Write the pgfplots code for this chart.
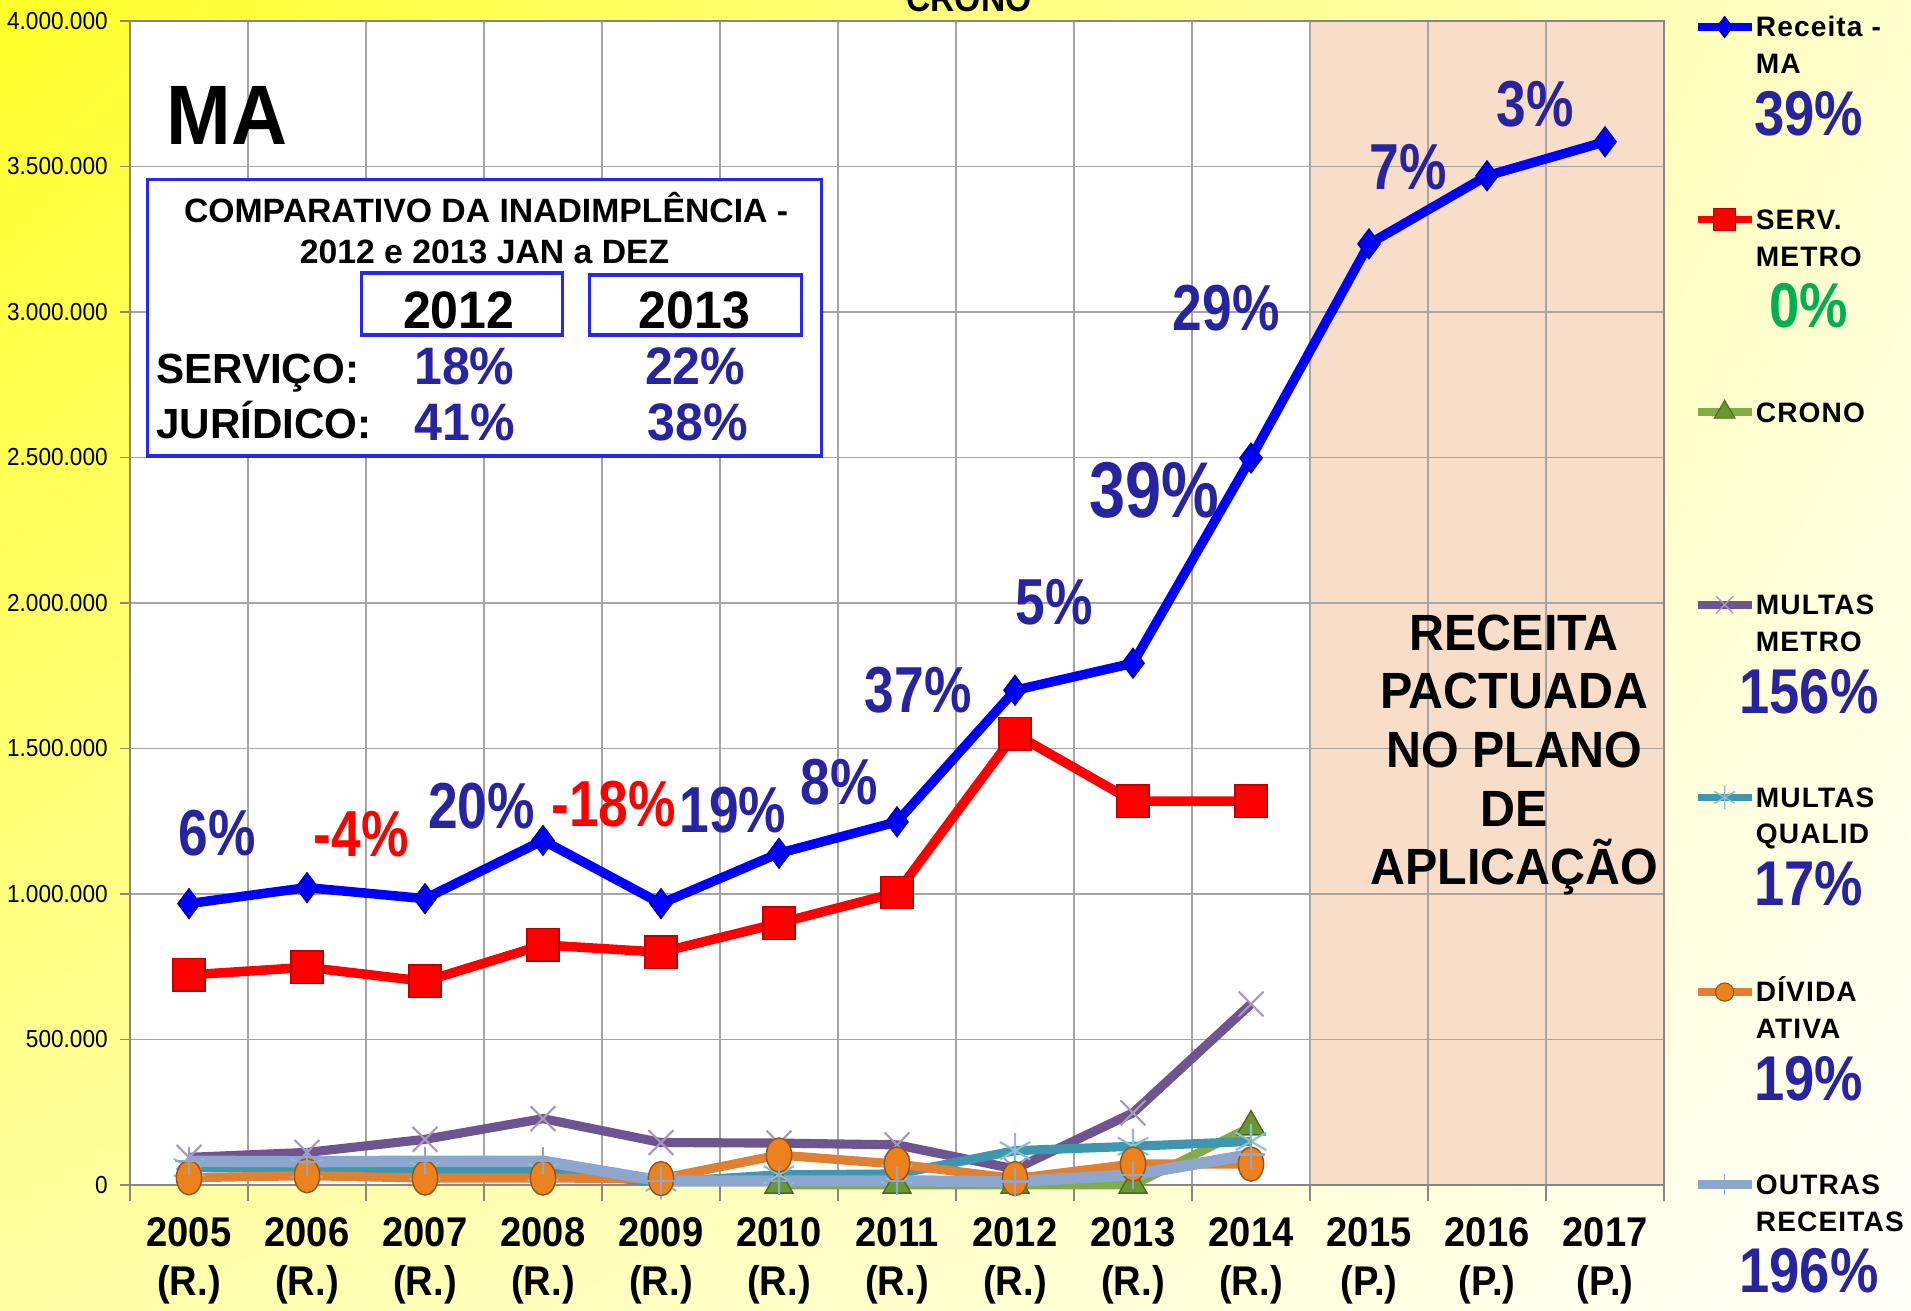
\documentclass[border=0pt]{standalone}
\usepackage{pgfplots}
\pgfplotsset{compat=1.18}
\usetikzlibrary{shadings}
\usepackage{fontspec}
\setmainfont{Liberation Sans}
\newfontfamily\narrowP[FakeStretch=0.82]{Liberation Sans}
\newfontfamily\narrowL[FakeStretch=0.86]{Liberation Sans}
\newfontfamily\narrowB[FakeStretch=0.92]{Liberation Sans}
\newfontfamily\narrowC[FakeStretch=0.95]{Liberation Sans}
\newfontfamily\lgfont[LetterSpace=4]{Liberation Sans}

\definecolor{pctblue}{RGB}{40,35,160}
\definecolor{boxblue}{RGB}{40,40,235}
\definecolor{peach}{RGB}{248,222,200}
\definecolor{greenC}{RGB}{130,172,72}
\definecolor{greenM}{RGB}{108,150,52}
\definecolor{purpleC}{RGB}{110,84,145}
\definecolor{tealC}{RGB}{62,150,175}
\definecolor{orangeC}{RGB}{224,128,50}
\definecolor{orangeM}{RGB}{236,130,30}
\definecolor{lblueC}{RGB}{140,166,206}
\definecolor{gridC}{RGB}{165,165,165}
\definecolor{axisC}{RGB}{135,135,135}
\definecolor{grn}{RGB}{0,176,80}
\definecolor{bgUL}{RGB}{255,255,40}
\definecolor{bgUR}{RGB}{255,255,205}
\definecolor{bgLL}{RGB}{255,255,165}
\definecolor{bgLR}{RGB}{255,255,250}

\NewDocumentCommand\lgent{mmmm}{\parbox[t][1.5cm][t]{1.9cm}{\lgfont\bfseries\fontsize{8}{10.4}\selectfont #1\par #2\par{\narrowL\bfseries\fontsize{18}{17.6}\selectfont\makebox[1.06cm]{\color{#3}#4}\par}}}
\NewDocumentCommand\lgentone{m}{\parbox[t][1.5cm][t]{1.9cm}{\lgfont\bfseries\fontsize{8}{10.4}\selectfont #1\par}}

\tikzset{
  pctlab/.style={text=pctblue, font=\narrowP\bfseries\fontsize{18.5}{20}\selectfont, inner sep=0pt},
  redlab/.style={text=red, font=\narrowP\bfseries\fontsize{18.5}{20}\selectfont, inner sep=0pt},
}

\begin{document}
\begin{tikzpicture}
\shade[shading=bilinear interpolation, upper left=bgUL, upper right=bgUR, lower left=bgLL, lower right=bgLR] (-1.30,-1.25) rectangle (17.81,11.85);
\fill[white] (0,0) rectangle (15.34,11.64);
\fill[peach] (11.80,0) rectangle (15.34,11.64);
\begin{axis}[
  at={(0,0)}, anchor=south west,
  scale only axis, width=15.34cm, height=11.64cm,
  xmin=-0.5, xmax=12.5, ymin=0, ymax=4000000,
  clip=false,
  axis line style={draw=axisC, line width=0.6pt},
  tick pos=left,
  tick align=outside,
  major tick length=2.8pt, minor tick length=4.5pt,
  tick style={axisC, line width=0.5pt},
  xtick={0,...,12},
  xticklabels={{2005\\(R.)},{2006\\(R.)},{2007\\(R.)},{2008\\(R.)},{2009\\(R.)},{2010\\(R.)},{2011\\(R.)},{2012\\(R.)},{2013\\(R.)},{2014\\(R.)},{2015\\(P.)},{2016\\(P.)},{2017\\(P.)}},
  xticklabel style={align=center, font=\narrowB\bfseries\fontsize{11.8}{13.9}\selectfont, yshift=-3pt},
  major x tick style={draw=none},
  minor xtick={-0.5,0.5,...,12.5},
  xminorgrids=true,
  ymajorgrids=true,
  grid style={gridC, line width=0.5pt},
  minor grid style={gridC, line width=0.5pt},
  major grid style={gridC, line width=0.5pt},
  ytick={0,500000,1000000,1500000,2000000,2500000,3000000,3500000,4000000},
  yticklabels={0,500.000,1.000.000,1.500.000,2.000.000,2.500.000,3.000.000,3.500.000,4.000.000},
  scaled y ticks=false,
  yticklabel style={font=\narrowB\fontsize{7}{8}\selectfont},
  legend style={at={(1.0187,1.0066)}, anchor=north west, draw=none, fill=none,
    inner sep=0pt, row sep=0pt, cells={anchor=base west}, nodes={inner sep=0pt},
    /tikz/every even column/.append style={column sep=0.5pt}},
  legend image code/.code={\path[draw=none,fill=none] (0cm,6.5pt) -- (0cm,6.5pt-1.926cm);
    \draw[mark repeat=2,mark phase=2,yshift=2.8pt,#1] plot coordinates {(0cm,0cm) (0.27cm,0cm) (0.54cm,0cm)};},
]
% ---- lines ----
\addplot[forget plot, blue, line width=2.7pt] coordinates {(0,967000)(1,1022000)(2,984000)(3,1184000)(4,967000)(5,1140000)(6,1248000)(7,1700000)(8,1793000)(9,2498000)(10,3234000)(11,3468000)(12,3585000)};
\addplot[forget plot, red, line width=2.7pt] coordinates {(0,722000)(1,748000)(2,700000)(3,825000)(4,800000)(5,900000)(6,1005000)(7,1550000)(8,1319000)(9,1319000)};
\addplot[forget plot, greenC, line width=2.5pt] coordinates {(5,0)(6,0)(7,0)(8,0)(9,200000)};
\addplot[forget plot, purpleC, line width=2.6pt] coordinates {(0,95000)(1,112000)(2,157000)(3,228000)(4,146000)(5,144000)(6,138000)(7,55000)(8,248000)(9,622000)};
\addplot[forget plot, tealC, line width=2.6pt] coordinates {(0,60000)(1,57000)(2,50000)(3,45000)(4,10000)(5,35000)(6,38000)(7,118000)(8,133000)(9,150000)};
\addplot[forget plot, orangeC, line width=2.6pt] coordinates {(0,25000)(1,32000)(2,24000)(3,24000)(4,22000)(5,103000)(6,72000)(7,22000)(8,72000)(9,72000)};
\addplot[forget plot, lblueC, line width=3.2pt] coordinates {(0,82000)(1,80000)(2,82000)(3,82000)(4,14000)(5,14000)(6,14000)(7,12000)(8,35000)(9,105000)};
% ---- markers ----
\addplot[forget plot, only marks, mark=diamond*, mark size=4.2pt, mark options={fill=blue, draw={rgb,255:red,0;green,0;blue,170}, line width=0.4pt}] coordinates {(0,967000)(1,1022000)(2,984000)(3,1184000)(4,967000)(5,1140000)(6,1248000)(7,1700000)(8,1793000)(9,2498000)(10,3234000)(11,3468000)(12,3585000)};
\addplot[forget plot, only marks, mark=square*, mark size=4.6pt, mark options={fill=red, draw=red!75!black, line width=0.4pt}] coordinates {(0,722000)(1,748000)(2,700000)(3,825000)(4,800000)(5,900000)(6,1005000)(7,1550000)(8,1319000)(9,1319000)};
\addplot[forget plot, only marks, mark=triangle*, mark size=4.6pt, mark options={fill=greenM, draw=greenM!70!black, line width=0.4pt}] coordinates {(5,0)(6,0)(7,0)(8,0)(9,200000)};
\addplot[forget plot, only marks, mark=x, mark size=5pt, mark options={draw=purpleC!60!white, line width=0.6pt}] coordinates {(0,95000)(1,112000)(2,157000)(3,228000)(4,146000)(5,144000)(6,138000)(7,55000)(8,248000)(9,622000)};
\addplot[forget plot, only marks, mark=asterisk, mark size=5pt, mark options={draw=tealC!60!white, line width=0.6pt}] coordinates {(0,60000)(1,57000)(2,50000)(3,45000)(4,10000)(5,35000)(6,38000)(7,118000)(8,133000)(9,150000)};
\addplot[forget plot, only marks, mark=*, mark size=3.6pt, mark options={fill=orangeM, draw=orangeM!65!black, line width=0.4pt, yscale=1.35}] coordinates {(0,25000)(1,32000)(2,24000)(3,24000)(4,22000)(5,103000)(6,72000)(7,22000)(8,72000)(9,72000)};
\addplot[forget plot, only marks, mark=+, mark size=4pt, mark options={draw=lblueC, line width=0.6pt}] coordinates {(0,82000)(1,80000)(2,82000)(3,82000)(4,14000)(5,14000)(6,14000)(7,12000)(8,35000)(9,105000)};
% ---- legend ----
\addlegendimage{blue, line width=2.2pt, mark=diamond*, mark size=3pt, mark options={fill=blue, draw={rgb,255:red,0;green,0;blue,170}, line width=0.3pt}}
\addlegendentry{\lgent{Receita -}{MA}{pctblue}{39\%}}
\addlegendimage{red, line width=2.2pt, mark=square*, mark size=3.2pt, mark options={fill=red, draw=red!75!black, line width=0.3pt}}
\addlegendentry{\lgent{SERV.}{METRO}{grn}{0\%}}
\addlegendimage{greenC, line width=2.2pt, mark=triangle*, mark size=3.4pt, mark options={fill=greenM, draw=greenM!70!black, line width=0.3pt}}
\addlegendentry{\lgentone{CRONO}}
\addlegendimage{purpleC, line width=2.2pt, mark=x, mark size=3.4pt, mark options={draw=purpleC!60!white, line width=0.4pt}}
\addlegendentry{\lgent{MULTAS}{METRO}{pctblue}{156\%}}
\addlegendimage{tealC, line width=2.2pt, mark=asterisk, mark size=3.4pt, mark options={draw=tealC!60!white, line width=0.4pt}}
\addlegendentry{\lgent{MULTAS}{QUALID}{pctblue}{17\%}}
\addlegendimage{orangeC, line width=2.2pt, mark=*, mark size=2.6pt, mark options={fill=orangeM, draw=orangeM!65!black, line width=0.3pt}}
\addlegendentry{\lgent{DÍVIDA}{ATIVA}{pctblue}{19\%}}
\addlegendimage{lblueC, line width=2.4pt, mark=+, mark size=3pt, mark options={draw=lblueC, line width=0.4pt}}
\addlegendentry{\lgent{OUTRAS}{RECEITAS}{pctblue}{196\%}}
% ---- annotations ----
\node[font=\narrowB\bfseries\fontsize{10.4}{12}\selectfont, anchor=base] at (axis cs:6.61,4031000) {CRONO};
\node[font=\narrowB\bfseries\fontsize{24}{24}\selectfont, inner sep=0pt] at (axis cs:0.32,3677000) {MA};
\draw[boxblue, line width=0.9pt, fill=white] (axis cs:-0.352,3454000) rectangle (axis cs:5.358,2505000);
\draw[boxblue, line width=0.9pt] (axis cs:1.46,3134000) rectangle (axis cs:3.165,2921000);
\draw[boxblue, line width=0.9pt] (axis cs:3.393,3127000) rectangle (axis cs:5.188,2921000);
\node[font=\bfseries\fontsize{9.6}{11}\selectfont, anchor=base, inner sep=0pt] at (axis cs:2.518,3307000) {COMPARATIVO DA INADIMPLÊNCIA -};
\node[font=\bfseries\fontsize{9.6}{11}\selectfont, anchor=base, inner sep=0pt] at (axis cs:2.505,3167000) {2012 e 2013 JAN a DEZ};
\node[font=\narrowC\bfseries\fontsize{15}{16}\selectfont, anchor=base, inner sep=0pt] at (axis cs:2.286,2944000) {2012};
\node[font=\narrowC\bfseries\fontsize{15}{16}\selectfont, anchor=base, inner sep=0pt] at (axis cs:4.283,2944000) {2013};
\node[font=\bfseries\fontsize{12}{14}\selectfont, anchor=base west, inner sep=0pt] at (axis cs:-0.284,2755000) {SERVIÇO:};
\node[font=\bfseries\fontsize{12}{14}\selectfont, anchor=base west, inner sep=0pt] at (axis cs:-0.284,2566000) {JURÍDICO:};
\node[font=\narrowC\bfseries\fontsize{15}{16}\selectfont, text=pctblue, anchor=base, inner sep=0pt] at (axis cs:2.334,2752000) {18\%};
\node[font=\narrowC\bfseries\fontsize{15}{16}\selectfont, text=pctblue, anchor=base, inner sep=0pt] at (axis cs:4.29,2752000) {22\%};
\node[font=\narrowC\bfseries\fontsize{15}{16}\selectfont, text=pctblue, anchor=base, inner sep=0pt] at (axis cs:2.335,2560000) {41\%};
\node[font=\narrowC\bfseries\fontsize{15}{16}\selectfont, text=pctblue, anchor=base, inner sep=0pt] at (axis cs:4.31,2560000) {38\%};
\node[pctlab] at (axis cs:0.24,1209000) {6\%};
\node[redlab] at (axis cs:1.46,1206000) {-4\%};
\node[pctlab] at (axis cs:2.48,1303000) {20\%};
\node[redlab] at (axis cs:3.60,1309000) {-18\%};
\node[pctlab] at (axis cs:4.61,1289000) {19\%};
\node[pctlab] at (axis cs:5.51,1383000) {8\%};
\node[pctlab] at (axis cs:6.18,1700000) {37\%};
\node[pctlab] at (axis cs:7.33,2002000) {5\%};
\node[pctlab, font=\narrowP\bfseries\fontsize{22.5}{24}\selectfont] at (axis cs:8.18,2388000) {39\%};
\node[pctlab] at (axis cs:8.79,3013000) {29\%};
\node[pctlab] at (axis cs:10.33,3497000) {7\%};
\node[pctlab] at (axis cs:11.41,3715000) {3\%};
\node[font=\narrowC\bfseries\fontsize{14.5}{16.7}\selectfont, align=center, inner sep=0pt] at (axis cs:11.23,1478000) {RECEITA\\PACTUADA\\NO PLANO\\DE\\APLICAÇÃO};
\end{axis}
\pgfresetboundingbox
\useasboundingbox (-1.30,-1.25) rectangle (17.81,11.85);
\end{tikzpicture}
\end{document}
